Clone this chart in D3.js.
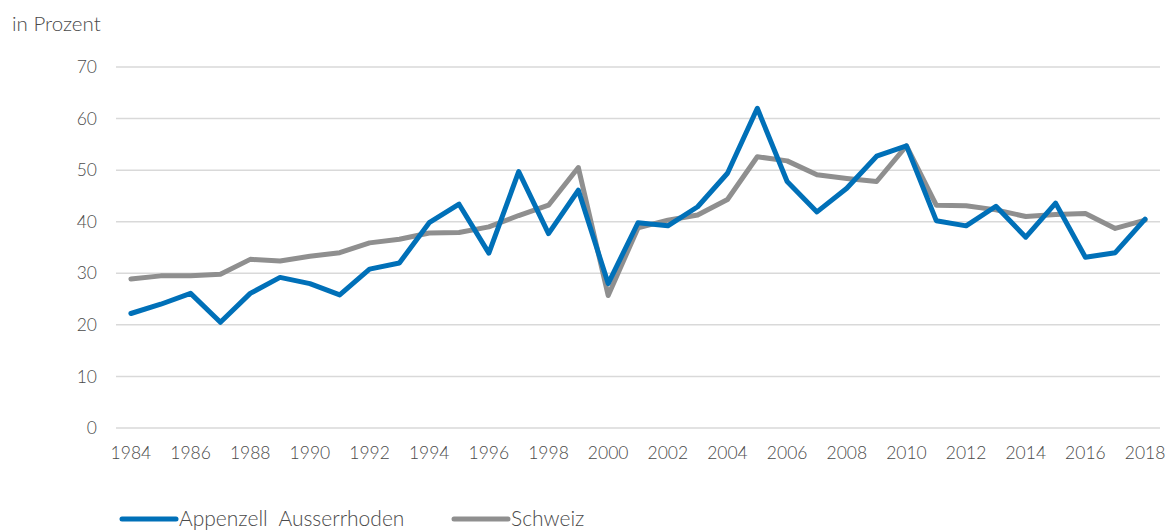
<!DOCTYPE html>
<html>
<head>
<meta charset="utf-8">
<script src="https://cdn.jsdelivr.net/npm/d3@7"></script>
<style>
  body { margin: 0; background: #fff; }
  svg text { font-family: Lato, "Open Sans", sans-serif; font-weight: 300; fill: #4a4a4a; }
</style>
</head>
<body>
<svg id="chart" width="1170" height="531"></svg>
<script>
const years = d3.range(1984, 2019);
const appenzell = [22.2, 24.0, 26.1, 20.5, 26.1, 29.2, 28.0, 25.8, 30.8, 32.0,
    39.8, 43.4, 33.9, 49.7, 37.7, 46.1, 28.0, 39.8, 39.2, 42.9,
    49.4, 62.0, 47.8, 41.9, 46.5, 52.7, 54.7, 40.2, 39.2, 43.0,
    37.0, 43.6, 33.1, 34.0, 40.5];
const schweiz = [28.9, 29.5, 29.5, 29.8, 32.7, 32.4, 33.3, 34.0, 35.9, 36.6,
    37.8, 37.9, 39.0, 41.2, 43.2, 50.5, 25.7, 38.8, 40.3, 41.3,
    44.3, 52.6, 51.8, 49.1, 48.4, 47.8, 54.7, 43.2, 43.1, 42.3,
    41.0, 41.4, 41.6, 38.7, 40.3];
const yTicks = [0, 10, 20, 30, 40, 50, 60, 70];
const xTicks = years.filter(y => y % 2 === 0);
const series = [
    { name: "Appenzell\u00a0 Ausserrhoden", values: appenzell, color: "#0070b8" },
    { name: "Schweiz", values: schweiz, color: "#8f8f8f" }
];

const svg = d3.select("#chart");
const margin = { left: 116, right: 10, top: 67, bottom: 103 };
const width = 1170, height = 531;

const x = d3.scaleBand().domain(years).range([margin.left, width - margin.right]);
const y = d3.scaleLinear().domain([0, 70]).range([height - margin.bottom, margin.top]);

// grid
svg.append("g").selectAll("line").data(yTicks).enter().append("line")
    .attr("x1", margin.left).attr("x2", width - margin.right)
    .attr("y1", d => y(d)).attr("y2", d => y(d))
    .attr("stroke", "#d9d9d9").attr("stroke-width", 1.5);

svg.append("g").selectAll("text").data(yTicks).enter().append("text")
    .attr("x", 97).attr("y", d => y(d)).attr("dy", "0.35em")
    .attr("text-anchor", "end").style("font-size", "17.5px").text(d => d);

svg.append("g").selectAll("text").data(xTicks).enter().append("text")
    .attr("x", d => x(d) + x.bandwidth() / 2).attr("y", 453).attr("dy", "0.35em")
    .attr("text-anchor", "middle").style("font-size", "17.5px").text(d => d);

svg.append("text").attr("x", 12).attr("y", 24).attr("dy", "0.35em")
    .style("font-size", "20.5px").text("in Prozent");

const line = d3.line()
    .x((d, i) => x(years[i]) + x.bandwidth() / 2)
    .y(d => y(d));

series.slice().reverse().forEach(s => {
    svg.append("path").datum(s.values)
        .attr("fill", "none").attr("stroke", s.color).attr("stroke-width", 5)
        .attr("stroke-linejoin", "round").attr("stroke-linecap", "round")
        .attr("d", line);
});

// legend
const legendPos = [120, 452];
series.forEach((s, i) => {
    const g = svg.append("g").attr("transform", `translate(${legendPos[i]},519)`);
    g.append("line").attr("x1", 2).attr("x2", 56).attr("y1", 0).attr("y2", 0)
        .attr("stroke", s.color).attr("stroke-width", 5).attr("stroke-linecap", "round");
    g.append("text").attr("x", 59).attr("dy", "0.35em").style("font-size", "21px").text(s.name);
});
</script>
</body>
</html>
